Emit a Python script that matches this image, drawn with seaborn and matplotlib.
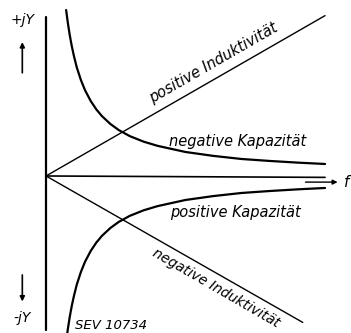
import numpy as np
import pandas as pd
import matplotlib.pyplot as plt
import seaborn as sns

# frequency axis (arbitrary units) and values
f_ind = [0, 10]
y_pos_ind = [0, 5.75]
f_ind_neg = [0, 9.2]
y_neg_ind = [0, -5.25]

f_cap = [0.72, 0.78, 0.85, 0.92, 1, 1.1, 1.25, 1.4, 1.6, 1.8, 2, 2.3, 2.6, 3,
         3.5, 4, 5, 6, 7, 8, 9, 10]
y_neg_cap = [5.95, 5.5, 5.05, 4.67, 4.3, 3.9, 3.44, 3.07, 2.69, 2.39, 2.15, 1.87,
             1.65, 1.43, 1.23, 1.08, 0.86, 0.72, 0.61, 0.54, 0.48, 0.43]
y_pos_cap = [-v for v in y_neg_cap]

sns.set_style('white')
plt.rcParams['font.family'] = ['DejaVu Sans']
plt.rcParams['text.color'] = 'black'

fig = plt.figure(figsize=(3.51, 3.33), dpi=100)
ax = fig.add_axes([0, 0, 1, 1])

ind = pd.DataFrame({'f': f_ind + f_ind_neg, 'Y': y_pos_ind + y_neg_ind,
                    'kind': ['pos'] * 2 + ['neg'] * 2})
cap = pd.DataFrame({'f': f_cap * 2, 'Y': y_neg_cap + y_pos_cap,
                    'kind': ['neg'] * len(f_cap) + ['pos'] * len(f_cap)})

sns.lineplot(data=ind, x='f', y='Y', units='kind', estimator=None, color='black',
             lw=1.0, sort=False, ax=ax)
sns.lineplot(data=cap, x='f', y='Y', units='kind', estimator=None, color='black',
             lw=1.6, sort=False, ax=ax)

# axes of the diagram
ax.plot([0, 0], [5.7, -5.52], color='black', lw=1.6)
ax.plot([0, 10], [0, -0.05], color='black', lw=1.2)
ax.annotate('', xy=(10.55, -0.22), xytext=(9.2, -0.22),
            arrowprops=dict(arrowstyle='-|>', color='black', lw=1.0, mutation_scale=7))
ax.text(10.78, -0.22, 'f', fontsize=11, style='italic', ha='center', va='center')

ax.annotate('', xy=(-0.85, 4.9), xytext=(-0.85, 3.6),
            arrowprops=dict(arrowstyle='-|>', color='black', lw=1.2, mutation_scale=7))
ax.annotate('', xy=(-0.85, -4.6), xytext=(-0.85, -3.45),
            arrowprops=dict(arrowstyle='-|>', color='black', lw=1.2, mutation_scale=7))
ax.text(-0.85, 5.6, '+jY', fontsize=10, style='italic', ha='center', va='center')
ax.text(-0.85, -5.1, '-jY', fontsize=10, style='italic', ha='center', va='center')

ax.text(6.0, 4.05, 'positive Induktivität', fontsize=10.5, style='italic',
        rotation=30, ha='center', va='center', rotation_mode='anchor')
ax.text(6.85, 1.23, 'negative Kapazität', fontsize=10.5, style='italic',
        ha='center', va='center')
ax.text(6.8, -1.3, 'positive Kapazität', fontsize=10.5, style='italic',
        ha='center', va='center')
ax.text(6.1, -4.0, 'negative Induktivität', fontsize=10, style='italic',
        rotation=-30, ha='center', va='center', rotation_mode='anchor')
ax.text(1.05, -5.35, 'SEV 10734', fontsize=9.5, style='italic', ha='left', va='center')

ax.set_xlim(-1.65, 10.93)
ax.set_ylim(-5.63, 6.31)
ax.set_axis_off()

plt.savefig('out.png', dpi=100)
